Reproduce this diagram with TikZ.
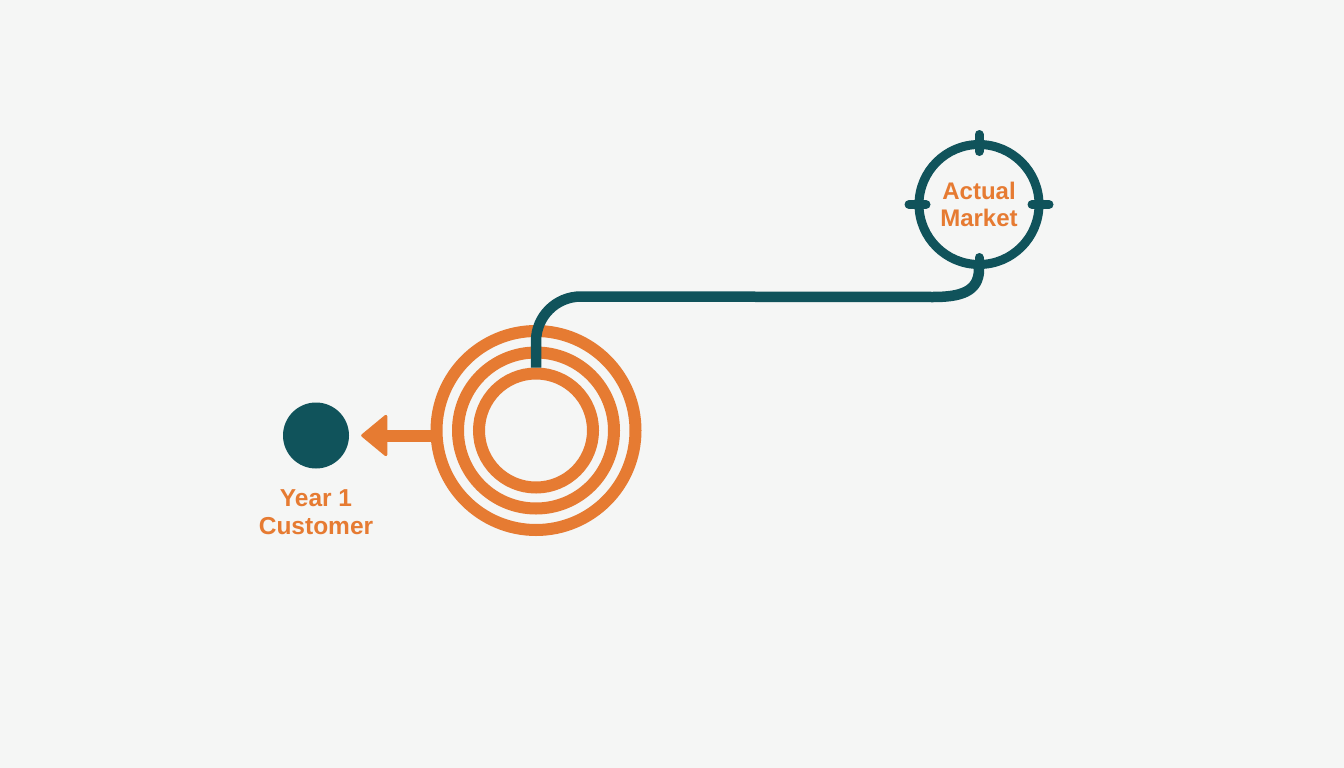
\documentclass[tikz,border=0pt]{standalone}
\usepackage{fontspec}
\setmainfont{Liberation Sans}
\usetikzlibrary{arrows.meta,calc}
\definecolor{bg}{HTML}{F5F6F5}
\definecolor{orng}{HTML}{E67B32}
\definecolor{tealc}{HTML}{10535B}
\tikzset{
  ring/.style={circle, draw=orng, line width=12pt, inner sep=0pt},
  lbl/.style={text=orng, align=center, font=\fontsize{24.5pt}{27.5pt}\selectfont\bfseries},
  conn/.style={draw=tealc, line width=10.5pt},
  tick/.style={draw=tealc, line width=9pt, line cap=round},
  orarrow/.style={draw=orng, line width=12pt, -{Triangle[length=27pt,width=44pt,line width=3pt,round]}}
}
\begin{document}
\begin{tikzpicture}[x=1pt,y=-1pt]
\fill[bg] (0,0) rectangle (1344,768);
\useasboundingbox (0,0) rectangle (1344,768);
% concentric rings
\node[ring, minimum size=199pt] (outer) at (536,430.5) {};
\node[ring, minimum size=156pt] (middle) at (536,430.5) {};
\node[ring, minimum size=114pt] (inner) at (536,430.5) {};
% customer
\node[circle, fill=tealc, minimum size=66pt, inner sep=0pt] (cust) at (316,435.5) {};
\node[lbl, anchor=north] (custlbl) at (316,486.5) {Year 1\\Customer};
% arrow
\draw[orarrow, shorten >=12pt] (outer.west |- cust.east) -- (cust.east);
% target
\node[circle, draw=tealc, line width=9pt, minimum size=120pt, inner sep=0pt, lbl, font=\fontsize{24pt}{27pt}\selectfont\bfseries] (tgt) at (979,204.5) {Actual\\Market};
\foreach \a in {0,90,180,270}
  \draw[tick] ($(tgt.center)+(\a:53)$) -- ($(tgt.center)+(\a:70)$);
% connector
\draw[conn] (inner.north) -- ++(0,-26)
  .. controls +(0,-25) and +(-25,0) .. ++(45,-45)
  -- (933,297)
  .. controls +(27,0) and +(0,23) .. (tgt.south);
\end{tikzpicture}
\end{document}
